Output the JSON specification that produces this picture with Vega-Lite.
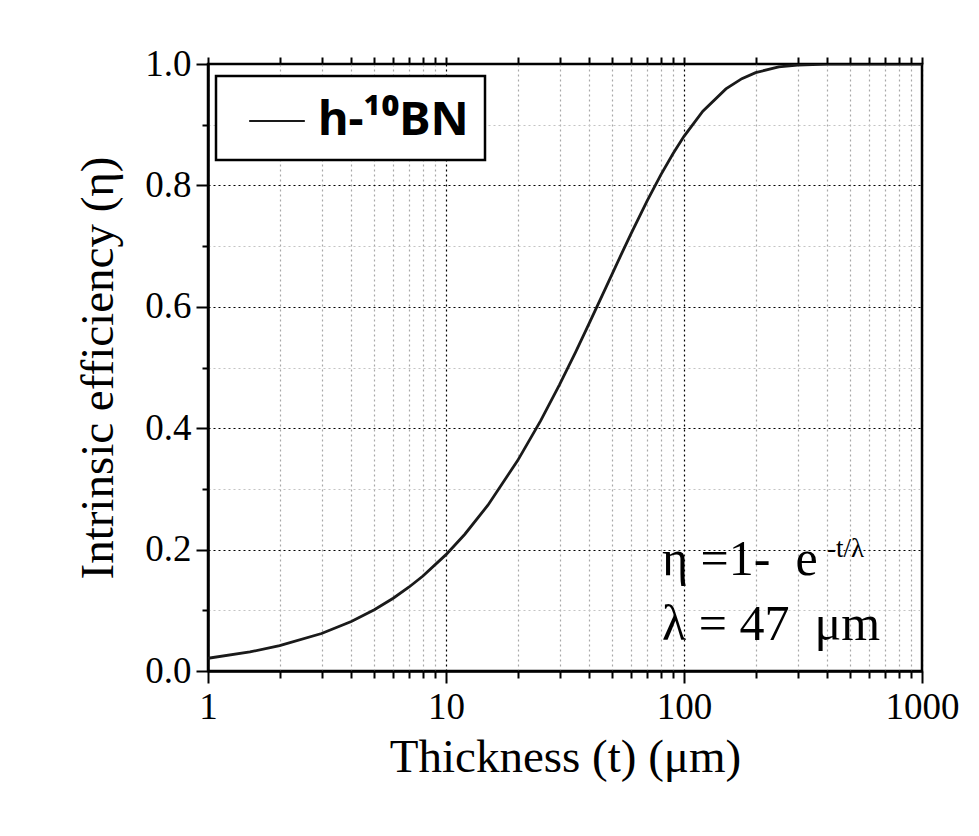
{
  "$schema": "https://vega.github.io/schema/vega-lite/v6.json",
  "width": 714,
  "height": 607,
  "autosize": {"type": "none"},
  "padding": {"left": 208, "top": 64, "right": 57, "bottom": 165},
  "background": "white",
  "config": {
    "view": {"stroke": "#000", "strokeWidth": 2.5},
    "legend": {
      "orient": "none",
      "legendX": 8,
      "legendY": 12,
      "strokeColor": "#000",
      "strokeWidth": 2.5,
      "fillColor": "white",
      "padding": 16,
      "symbolOffset": 16,
      "labelOffset": 12,
      "symbolType": "stroke",
      "symbolSize": 3100,
      "symbolStrokeWidth": 2,
      "labelFont": "Noto Sans",
      "labelFontWeight": "bold",
      "labelFontSize": 47,
      "labelColor": "#000",
      "labelLimit": 400
    }
  },
  "layer": [
    {
      "data": {
        "values": [
          {"t": 1, "eta": 0.0210, "series": "h-¹⁰BN"},
          {"t": 1.5, "eta": 0.0314, "series": "h-¹⁰BN"},
          {"t": 2, "eta": 0.0417, "series": "h-¹⁰BN"},
          {"t": 3, "eta": 0.0618, "series": "h-¹⁰BN"},
          {"t": 4, "eta": 0.0816, "series": "h-¹⁰BN"},
          {"t": 5, "eta": 0.1009, "series": "h-¹⁰BN"},
          {"t": 6, "eta": 0.1199, "series": "h-¹⁰BN"},
          {"t": 7, "eta": 0.1384, "series": "h-¹⁰BN"},
          {"t": 8, "eta": 0.1565, "series": "h-¹⁰BN"},
          {"t": 10, "eta": 0.1917, "series": "h-¹⁰BN"},
          {"t": 12, "eta": 0.2253, "series": "h-¹⁰BN"},
          {"t": 15, "eta": 0.2732, "series": "h-¹⁰BN"},
          {"t": 20, "eta": 0.3466, "series": "h-¹⁰BN"},
          {"t": 25, "eta": 0.4125, "series": "h-¹⁰BN"},
          {"t": 30, "eta": 0.4718, "series": "h-¹⁰BN"},
          {"t": 35, "eta": 0.5251, "series": "h-¹⁰BN"},
          {"t": 40, "eta": 0.5730, "series": "h-¹⁰BN"},
          {"t": 47, "eta": 0.6321, "series": "h-¹⁰BN"},
          {"t": 55, "eta": 0.6897, "series": "h-¹⁰BN"},
          {"t": 60, "eta": 0.7210, "series": "h-¹⁰BN"},
          {"t": 70, "eta": 0.7745, "series": "h-¹⁰BN"},
          {"t": 80, "eta": 0.8177, "series": "h-¹⁰BN"},
          {"t": 90, "eta": 0.8526, "series": "h-¹⁰BN"},
          {"t": 100, "eta": 0.8809, "series": "h-¹⁰BN"},
          {"t": 120, "eta": 0.9222, "series": "h-¹⁰BN"},
          {"t": 150, "eta": 0.9589, "series": "h-¹⁰BN"},
          {"t": 175, "eta": 0.9759, "series": "h-¹⁰BN"},
          {"t": 200, "eta": 0.9858, "series": "h-¹⁰BN"},
          {"t": 250, "eta": 0.9951, "series": "h-¹⁰BN"},
          {"t": 300, "eta": 0.9983, "series": "h-¹⁰BN"},
          {"t": 400, "eta": 0.9998, "series": "h-¹⁰BN"},
          {"t": 500, "eta": 1.0, "series": "h-¹⁰BN"},
          {"t": 700, "eta": 1.0, "series": "h-¹⁰BN"},
          {"t": 1000, "eta": 1.0, "series": "h-¹⁰BN"}
        ]
      },
      "mark": {"type": "line", "strokeWidth": 2.8, "clip": true},
      "encoding": {
        "x": {
          "field": "t",
          "type": "quantitative",
          "scale": {"type": "log", "domain": [1, 1000], "nice": false},
          "axis": {
            "orient": "bottom",
            "values": [1, 2, 3, 4, 5, 6, 7, 8, 9, 10, 20, 30, 40, 50, 60, 70, 80, 90, 100, 200, 300, 400, 500, 600, 700, 800, 900, 1000],
            "format": "d",
            "labelExpr": "indexof([1,10,100,1000], datum.value) >= 0 ? format(datum.value, 'd') : ''",
            "labelOverlap": false,
            "labelFlush": false,
            "labelBound": false,
            "labelFont": "Liberation Serif",
            "labelFontSize": 37,
            "labelColor": "#000",
            "labelPadding": 6,
            "tickColor": "#000",
            "tickWidth": 2,
            "tickSize": {"condition": {"test": "indexof([1,10,100,1000], datum.value) >= 0", "value": 12}, "value": 7},
            "domain": true,
            "domainColor": "#000",
            "domainWidth": 2.5,
            "grid": true,
            "gridDash": [2, 3],
            "gridWidth": 1.2,
            "gridColor": {"condition": {"test": "indexof([1,10,100,1000], datum.value) >= 0", "value": "#000"}, "value": "#a8a8a8"},
            "title": "Thickness (t) (μm)",
            "titleFont": "Liberation Serif",
            "titleFontSize": 47,
            "titleFontWeight": "normal",
            "titleColor": "#000",
            "titlePadding": 9
          }
        },
        "y": {
          "field": "eta",
          "type": "quantitative",
          "scale": {"domain": [0, 1], "nice": false, "zero": false},
          "axis": {
            "orient": "left",
            "values": [0, 0.1, 0.2, 0.3, 0.4, 0.5, 0.6, 0.7, 0.8, 0.9, 1.0],
            "labelExpr": "round(datum.value*10) % 2 == 0 ? format(datum.value, '.1f') : ''",
            "labelOverlap": false,
            "labelFlush": false,
            "labelBound": false,
            "labelFont": "Liberation Serif",
            "labelFontSize": 37,
            "labelColor": "#000",
            "labelPadding": 5,
            "tickColor": "#000",
            "tickWidth": 2,
            "tickSize": {"condition": {"test": "round(datum.value*10) % 2 == 0", "value": 12}, "value": 6},
            "domain": true,
            "domainColor": "#000",
            "domainWidth": 2.5,
            "grid": true,
            "gridDash": [2, 3],
            "gridWidth": 1.2,
            "gridColor": {"condition": {"test": "round(datum.value*10) % 2 == 0", "value": "#000"}, "value": "#c4c4c4"},
            "title": "Intrinsic efficiency (η)",
            "titleFont": "Liberation Serif",
            "titleFontSize": 47,
            "titleFontWeight": "normal",
            "titleColor": "#000",
            "titlePadding": 22
          }
        },
        "stroke": {
          "field": "series",
          "type": "nominal",
          "scale": {"range": ["#1a1a1a"]},
          "legend": {"title": null}
        }
      }
    },
    {
      "data": {
        "values": [
          {"t": 1, "eta": 0},
          {"t": 1000, "eta": 1}
        ]
      },
      "mark": {"type": "point", "opacity": 0},
      "encoding": {
        "x": {
          "field": "t",
          "type": "quantitative",
          "axis": {
            "orient": "top",
            "values": [1, 2, 3, 4, 5, 6, 7, 8, 9, 10, 20, 30, 40, 50, 60, 70, 80, 90, 100, 200, 300, 400, 500, 600, 700, 800, 900, 1000],
            "labels": false,
            "grid": false,
            "domain": false,
            "tickColor": "#000",
            "tickWidth": 2,
            "tickSize": 7,
            "title": null
          }
        },
        "y": {"field": "eta", "type": "quantitative"}
      }
    },
    {
      "data": {
        "values": [
          {"t": 80.8, "eta": 0.158, "label": "η =1-\u00a0 e"},
          {"t": 80.8, "eta": 0.051, "label": "λ = 47\u00a0 μm"}
        ]
      },
      "mark": {"type": "text", "align": "left", "baseline": "alphabetic", "font": "Liberation Serif", "fontSize": 50, "color": "#000"},
      "encoding": {
        "x": {"field": "t", "type": "quantitative", "axis": null},
        "y": {"field": "eta", "type": "quantitative"},
        "text": {"field": "label"}
      }
    },
    {
      "data": {
        "values": [
          {"t": 399, "eta": 0.188, "label": "-t/λ"}
        ]
      },
      "mark": {"type": "text", "align": "left", "baseline": "alphabetic", "font": "Liberation Serif", "fontSize": 27, "color": "#000"},
      "encoding": {
        "x": {"field": "t", "type": "quantitative", "axis": null},
        "y": {"field": "eta", "type": "quantitative"},
        "text": {"field": "label"}
      }
    }
  ]
}
